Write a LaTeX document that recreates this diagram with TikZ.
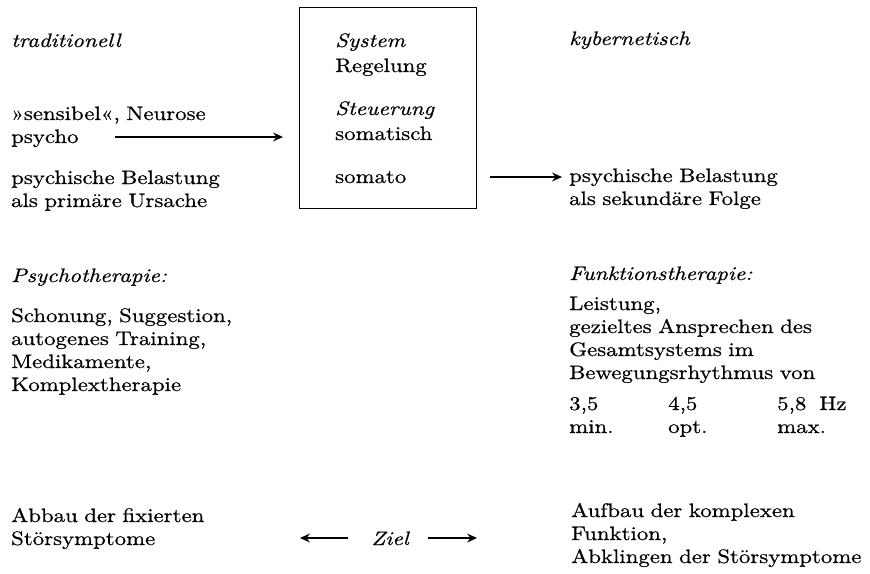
\documentclass[tikz,border=0pt]{standalone}
\usepackage{fontspec}
\setmainfont{lmroman10-regular.otf}[ItalicFont=lmroman10-italic.otf, FakeStretch=1.17, FakeBold=0.6]
\usetikzlibrary{arrows.meta}
\begin{document}
\begin{tikzpicture}[x=1pt,y=-1pt,
  txt/.style={anchor=base west, inner sep=0pt, font=\fontsize{19.5}{23}\selectfont, text width=330pt, align=left},
  ittxt/.style={txt, font=\fontsize{19.5}{23}\selectfont\itshape},
  arr/.style={-{Stealth[length=10pt,width=9pt,inset=3.5pt]}, line width=1.1pt},
  frame/.style={draw, line width=1.4pt, inner sep=0pt, anchor=north west}]
\useasboundingbox (0,0) rectangle (870,573);

% central box
\node[frame, minimum width=177pt, minimum height=201pt] (box) at (299,7) {};
\node[ittxt] (sys) at (335,47) {System};
\node[txt] (reg) at (335,72) {Regelung};
\node[ittxt] (steu) at (335,115) {Steuerung};
\node[txt] (som) at (335,140) {somatisch};
\node[txt] (somato) at (335,183) {somato};

% left column
\node[ittxt] (trad) at (11,47) {traditionell};
\node[txt] (sens) at (11,120) {»sensibel«, Neurose\\psycho};
\node[txt] (belL) at (11,184) {psychische Belastung\\als primäre Ursache};
\node[ittxt] (psyth) at (11,282) {Psychotherapie:};
\node[txt] (schon) at (11,322) {Schonung, Suggestion,\\autogenes Training,\\Medikamente,\\Komplextherapie};
\node[txt] (abbau) at (11,522) {Abbau der fixierten\\Störsymptome};

% right column
\node[ittxt] (kyb) at (569,45) {kybernetisch};
\node[txt] (belR) at (569,182) {psychische Belastung\\als sekundäre Folge};
\node[ittxt] (funk) at (569,280) {Funktionstherapie:};
\node[txt] (leist) at (569,310) {Leistung,\\gezieltes Ansprechen des\\Gesamtsystems im\\Bewegungsrhythmus von};
\node[txt, text width=60pt] (n1) at (569,410) {3,5\\min.};
\node[txt, text width=60pt] (n2) at (668,410) {4,5\\opt.};
\node[txt, text width=90pt] (n3) at (777,410) {5,8~~Hz\\max.};
\node[txt] (aufbau) at (571,517) {Aufbau der komplexen\\Funktion,\\Abklingen der Störsymptome};

% goal
\node[anchor=base, inner sep=0pt, font=\fontsize{19.5}{23}\selectfont\itshape] (ziel) at (390,545) {Ziel};

% arrows
\coordinate (a1s) at (115,137);
\coordinate (a1e) at (283,137);
\draw[arr] (a1s) -- (a1e);
\coordinate (a2s) at (490,177);
\coordinate (a2e) at (562,177);
\draw[arr] (a2s) -- (a2e);
\coordinate (a3s) at (348,538);
\coordinate (a3e) at (300,538);
\draw[arr] (a3s) -- (a3e);
\coordinate (a4s) at (428,538);
\coordinate (a4e) at (477,538);
\draw[arr] (a4s) -- (a4e);
\end{tikzpicture}
\end{document}
